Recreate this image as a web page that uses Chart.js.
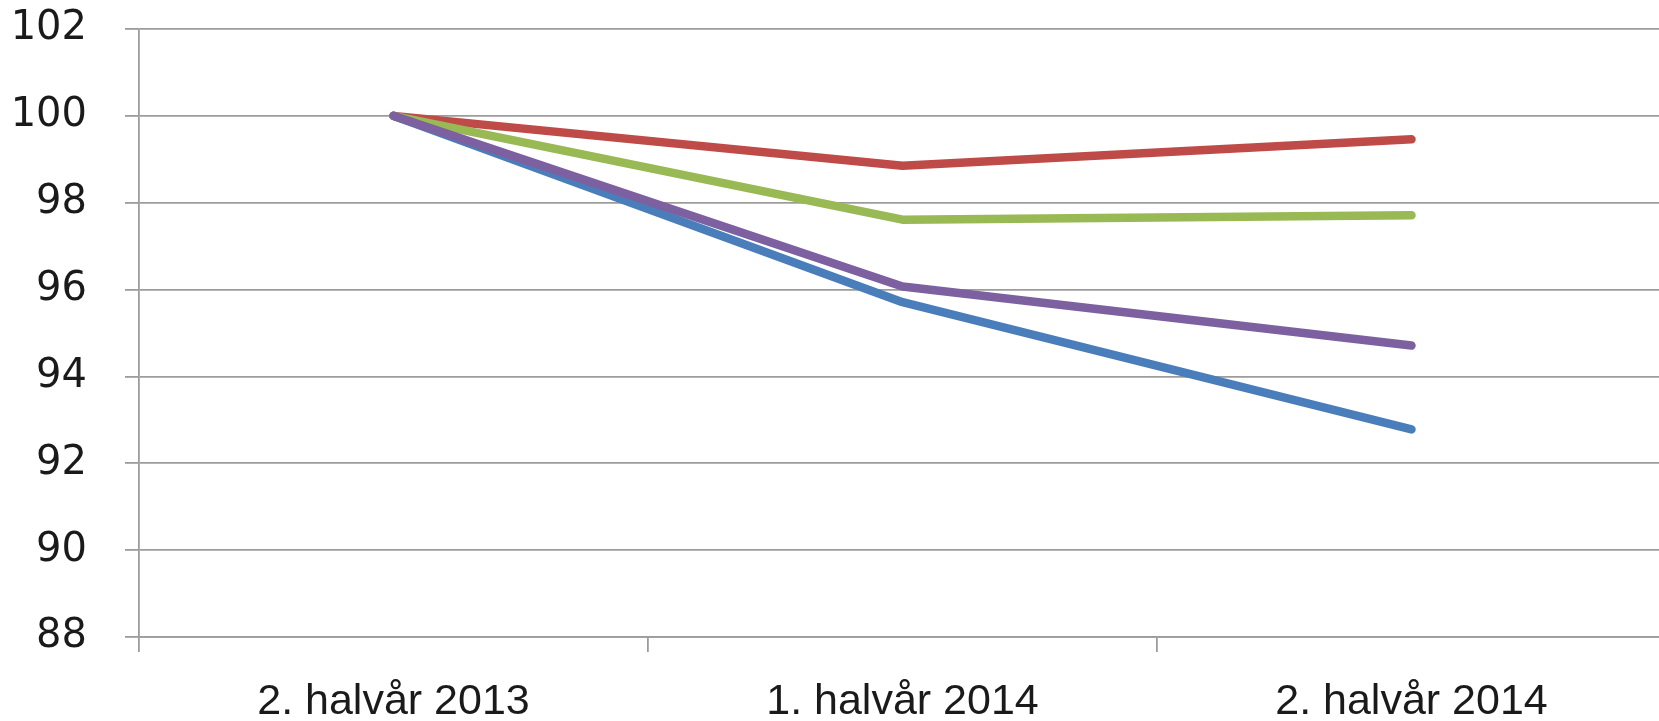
<!DOCTYPE html>
<html>
<head>
<meta charset="utf-8">
<script src="https://cdn.jsdelivr.net/npm/chart.js@4.4.1/dist/chart.umd.min.js"></script>
<style>
  html, body { margin: 0; padding: 0; background: #ffffff; overflow: hidden; }
  #wrap { position: relative; width: 1659px; height: 721px; overflow: hidden; }
  #c { position: absolute; left: 0; top: -33px; }
</style>
</head>
<body>
<div id="wrap"><canvas id="c" width="1672" height="754"></canvas></div>
<script>
const categories = ["2. halvår 2013", "1. halvår 2014", "2. halvår 2014"];
const yTicks = [88, 90, 92, 94, 96, 98, 100, 102];
const blueSeries = [100, 95.71, 92.78];
const redSeries = [100, 98.85, 99.46];
const greenSeries = [100, 97.61, 97.71];
const purpleSeries = [100, 96.07, 94.71];

const gridColor = "#9c9c9c";

function ds(data, color, order) {
  return {
    data: data,
    borderColor: color,
    backgroundColor: color,
    borderWidth: 8.5,
    pointRadius: 0,
    pointHoverRadius: 0,
    tension: 0,
    fill: false,
    borderCapStyle: "round",
    borderJoinStyle: "round",
    order: order
  };
}

new Chart(document.getElementById("c"), {
  type: "line",
  data: {
    labels: categories,
    datasets: [
      ds(blueSeries, "#4a7ebb", 4),
      ds(redSeries, "#be4b48", 3),
      ds(greenSeries, "#98b954", 2),
      ds(purpleSeries, "#7d60a0", 1)
    ]
  },
  options: {
    responsive: false,
    animation: false,
    events: [],
    layout: { padding: { top: 0, right: 6, bottom: 0, left: 0 } },
    plugins: { legend: { display: false }, tooltip: { enabled: false } },
    scales: {
      x: {
        type: "category",
        offset: true,
        grid: {
          offset: true,
          drawOnChartArea: false,
          drawTicks: true,
          tickLength: 15,
          color: gridColor,
          lineWidth: 1.8
        },
        border: { display: true, color: gridColor, width: 1.8 },
        ticks: {
          color: "#1a1a1a",
          font: { family: "'Liberation Sans', Arial, sans-serif", size: 43 },
          padding: 24,
          maxRotation: 0,
          autoSkip: false
        },
        afterFit: function (scale) { scale.height = 84; }
      },
      y: {
        min: 88,
        max: 102,
        afterBuildTicks: function (scale) {
          scale.ticks = yTicks.map(v => ({ value: v }));
        },
        grid: {
          color: gridColor,
          lineWidth: 1.8,
          drawTicks: true,
          tickLength: 14
        },
        border: { display: true, color: gridColor, width: 1.8 },
        ticks: {
          color: "#1a1a1a",
          font: { family: "'DejaVu Sans', Verdana, sans-serif", size: 40 },
          padding: 38
        },
        afterFit: function (scale) { scale.width = 139; }
      }
    }
  }
});
</script>
</body>
</html>
